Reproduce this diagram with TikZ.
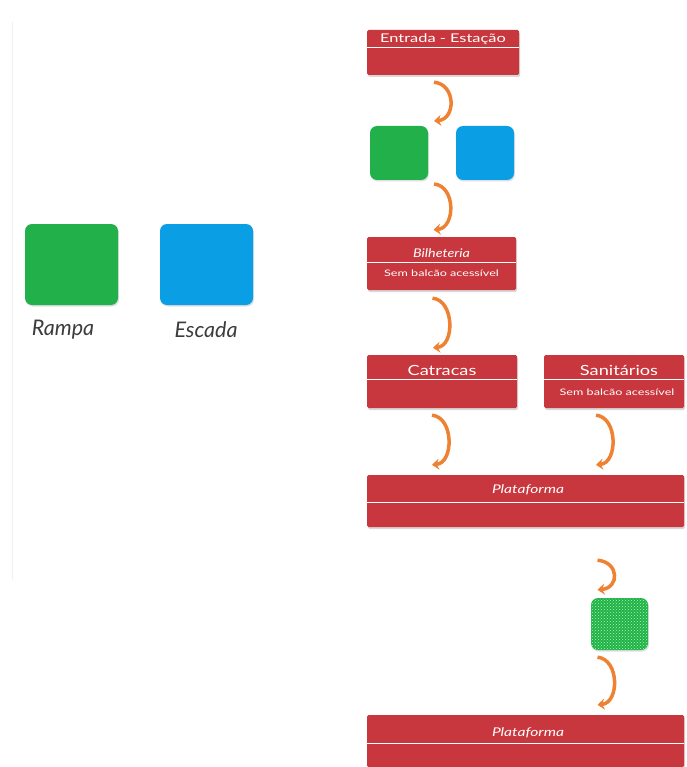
\documentclass[tikz,border=0pt]{standalone}
\usepackage{fontspec}
\setmainfont{Lato}
\usetikzlibrary{arrows.meta,patterns,shadows}
\definecolor{boxred}{RGB}{201,55,62}
\definecolor{flowor}{RGB}{238,130,50}
\definecolor{rampgreen}{RGB}{34,176,75}
\definecolor{stairblue}{RGB}{10,158,228}
\definecolor{labelgray}{RGB}{60,60,60}
\begin{document}
\begin{tikzpicture}[x=1pt,y=-1pt,
	station/.style={fill=boxred, rounded corners=1.5pt, inner sep=0pt,
		drop shadow={shadow xshift=1pt, shadow yshift=-2pt, opacity=.3}},
	title/.style={text=white, xscale=1.3, transform shape, font=\fontsize{14}{16}\selectfont},
	subtitle/.style={text=white, xscale=1.4, transform shape, font=\fontsize{9}{11}\selectfont},
	split/.style={white, line width=1.2pt},
	tile/.style={rounded corners=7pt, inner sep=0pt,
		drop shadow={shadow xshift=1pt, shadow yshift=-1.5pt, opacity=.25}},
	legend/.style={text=labelgray, font=\fontsize{21.5}{26}\selectfont\itshape},
	flow/.style={draw=flowor, line width=3.5pt, -{Stealth[length=7pt,width=11pt]}}]
	\useasboundingbox [fill=white] (0,0) rectangle (686,767);
	\draw [black!6, line width=1pt] (12,22) -- (12,580);
	% legenda
	\node [tile, fill=rampgreen, minimum width=93pt, minimum height=81pt] (rampa) at (71.5,264.5) {};
	\node [tile, fill=stairblue, minimum width=93pt, minimum height=81pt] (escada) at (206.5,264.5) {};
	\node [legend] (rampa-t) at (63,330) {Rampa};
	\node [legend] (escada-t) at (206,330) {Escada};
	% entrada
	\node [station, minimum width=152pt, minimum height=45pt] (entrada) at (443,52.5) {};
	\node [title, xscale=1.05, font=\fontsize{12}{14}\selectfont] (entrada-t) at (443,39) {Entrada - Estação};
	\draw [split] ([yshift=-18pt]entrada.north west) -- ([yshift=-18pt]entrada.north east);
	\node [tile, fill=rampgreen, minimum width=58pt, minimum height=54pt] (rampa1) at (399,153) {};
	\node [tile, fill=stairblue, minimum width=58pt, minimum height=54pt] (escada1) at (485,153) {};
	\coordinate (acesso-in) at (434,121);
	\coordinate (acesso-out) at (434,184);
	% bilheteria
	\node [station, minimum width=149pt, minimum height=53pt] (bilheteria) at (441.5,263.5) {};
	\node [title, xscale=0.92, font=\fontsize{12}{14}\selectfont\itshape] (bilheteria-t) at (441.5,253) {Bilheteria};
	\draw [split] ([yshift=-26pt]bilheteria.north west) -- ([yshift=-26pt]bilheteria.north east);
	\node [subtitle] (bilheteria-s) at (441.5,273) {Sem balcão acessível};
	% catracas e sanitarios
	\node [station, minimum width=150pt, minimum height=53pt] (catracas) at (442,381.5) {};
	\node [title] (catracas-t) at (442,370) {Catracas};
	\draw [split] ([yshift=-25pt]catracas.north west) -- ([yshift=-25pt]catracas.north east);
	\node [station, minimum width=140pt, minimum height=53pt] (sanitarios) at (614,381.5) {};
	\node [title] (sanitarios-t) at (619,370) {Sanitários};
	\draw [split] ([yshift=-25pt]sanitarios.north west) -- ([yshift=-25pt]sanitarios.north east);
	\node [subtitle] (sanitarios-s) at (617,392) {Sem balcão acessível};
	% plataformas
	\node [station, minimum width=317pt, minimum height=52pt] (plataforma1) at (525.5,501) {};
	\node [title, font=\fontsize{12}{14}\selectfont\itshape] (plataforma1-t) at (528,490) {Plataforma};
	\draw [split] ([yshift=-28pt]plataforma1.north west) -- ([yshift=-28pt]plataforma1.north east);
	\node [tile, fill=rampgreen, minimum width=57pt, minimum height=52pt,
		postaction={pattern=crosshatch dots, pattern color=green!35!white}] (rampa2) at (619.5,624) {};
	\node [station, minimum width=317pt, minimum height=52pt] (plataforma2) at (525.5,741) {};
	\node [title, font=\fontsize{12}{14}\selectfont\itshape] (plataforma2-t) at (528,733) {Plataforma};
	\draw [split] ([yshift=-29pt]plataforma2.north west) -- ([yshift=-29pt]plataforma2.north east);
	% fluxo
	\draw [flow] ([xshift=-9pt,yshift=-7pt]entrada.south) .. controls +(22,2) and +(22,-2) .. (acesso-in);
	\draw [flow] (acesso-out) .. controls +(22,2) and +(22,-2) .. ([xshift=-8pt,yshift=7pt]bilheteria.north);
	\draw [flow] ([xshift=-9pt,yshift=-8pt]bilheteria.south) .. controls +(22,2) and +(22,-2) .. ([xshift=-9pt,yshift=7pt]catracas.north);
	\draw [flow] ([xshift=-10pt,yshift=-7pt]catracas.south) .. controls +(22,2) and +(22,-2) .. ([xshift=-10pt,yshift=10pt]catracas.south |- plataforma1.north);
	\draw [flow] ([xshift=-18pt,yshift=-7pt]sanitarios.south) .. controls +(22,2) and +(22,-2) .. ([xshift=-18pt,yshift=10pt]sanitarios.south |- plataforma1.north);
	\draw [flow] ([xshift=-22pt,yshift=-33pt]rampa2.north |- plataforma1.south) .. controls +(22,2) and +(22,-2) .. ([xshift=-22pt,yshift=8pt]rampa2.north);
	\draw [flow] ([xshift=-22pt,yshift=-7pt]rampa2.south) .. controls +(22,2) and +(22,-2) .. ([xshift=-22pt,yshift=10pt]rampa2.south |- plataforma2.north);
\end{tikzpicture}
\end{document}
